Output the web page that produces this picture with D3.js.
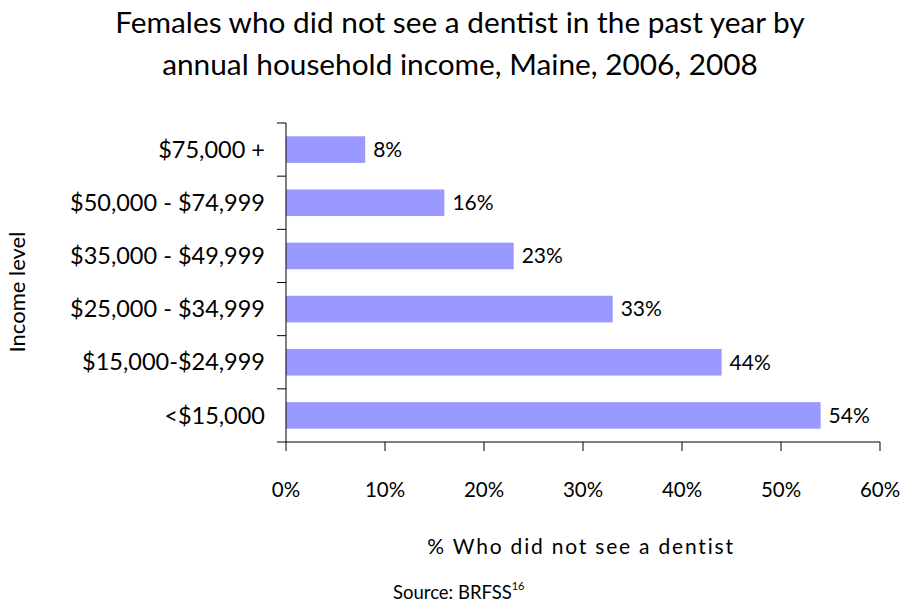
<!DOCTYPE html>
<html><head><meta charset="utf-8">
<script src="https://cdn.jsdelivr.net/npm/d3@7"></script>
<style>body{margin:0;background:#fff}svg{display:block}text{font-family:Lato,"Open Sans",sans-serif;fill:#000}</style>
</head><body><svg id="c" width="904" height="604"></svg>
<script>
const categories = ["$75,000 +","$50,000 - $74,999","$35,000 - $49,999","$25,000 - $34,999","$15,000-$24,999","<$15,000"];
const values = [8,16,23,33,44,54];
const xTicks = [0,10,20,30,40,50,60];
const titleLines = ["Females who did not see a dentist in the past year by","annual household income, Maine, 2006, 2008"];

const svg = d3.select("#c");
const pLeft = 286, pRight = 880, pTop = 123, pBottom = 442;
const x = d3.scaleLinear().domain([0,60]).range([pLeft,pRight]);
const y = d3.scaleBand().domain(categories).range([pTop,pBottom]).paddingInner(0.5).paddingOuter(0.25);

svg.selectAll("text.title").data(titleLines).join("text").attr("class","title")
  .attr("x",460).attr("y",(d,i)=>33+i*42).attr("text-anchor","middle").attr("font-size",29.8).text(d=>d);

svg.selectAll("rect.bar").data(values).join("rect").attr("class","bar")
  .attr("x",x(0)).attr("y",(d,i)=>y(categories[i])).attr("width",d=>x(d)-x(0)).attr("height",y.bandwidth())
  .attr("fill","#9999FF");

svg.selectAll("text.val").data(values).join("text").attr("class","val")
  .attr("x",d=>x(d)+8).attr("y",(d,i)=>y(categories[i])+y.bandwidth()/2).attr("dy","0.35em")
  .attr("font-size",21).text(d=>d+"%");

// y axis
const gy = svg.append("g");
gy.append("line").attr("x1",pLeft).attr("x2",pLeft).attr("y1",pTop).attr("y2",pBottom).attr("stroke","#000");
const bounds = d3.range(categories.length+1).map(i=>pTop+i*(pBottom-pTop)/categories.length);
gy.selectAll("line.t").data(bounds).join("line").attr("class","t")
  .attr("x1",pLeft-9).attr("x2",pLeft).attr("y1",d=>d).attr("y2",d=>d).attr("stroke","#000");
gy.selectAll("text").data(categories).join("text")
  .attr("x",265).attr("y",d=>y(d)+y.bandwidth()/2).attr("dy","0.35em").attr("text-anchor","end")
  .attr("font-size",23.5).text(d=>d);

// x axis
const gx = svg.append("g");
gx.append("line").attr("x1",pLeft).attr("x2",pRight).attr("y1",pBottom).attr("y2",pBottom).attr("stroke","#000");
gx.selectAll("line.t").data(xTicks).join("line").attr("class","t")
  .attr("x1",d=>x(d)).attr("x2",d=>x(d)).attr("y1",pBottom).attr("y2",pBottom+9).attr("stroke","#000");
gx.selectAll("text").data(xTicks).join("text")
  .attr("x",d=>x(d)).attr("y",490).attr("dy","0.35em").attr("text-anchor","middle")
  .attr("font-size",20.5).text(d=>d+"%");

svg.append("text").attr("x",581).attr("y",554).attr("text-anchor","middle").attr("font-size",21)
  .attr("letter-spacing",1.8).text("% Who did not see a dentist");
svg.append("text").attr("transform","translate(25,292) rotate(-90)").attr("text-anchor","middle")
  .attr("font-size",22).text("Income level");
const src = svg.append("text").attr("x",393).attr("y",599).attr("font-size",18.5);
src.append("tspan").text("Source: BRFSS");
src.append("tspan").attr("font-size",11).attr("dy",-9).text("16");
</script></body></html>
